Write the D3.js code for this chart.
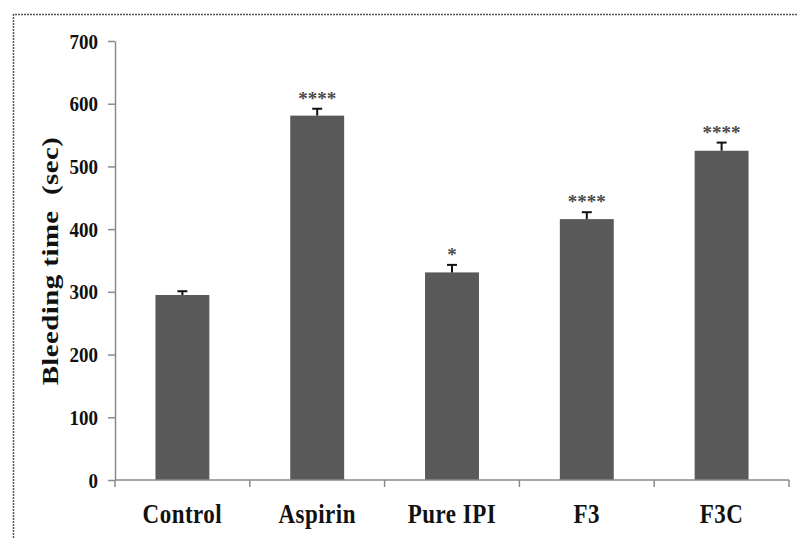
<!DOCTYPE html>
<html>
<head>
<meta charset="utf-8">
<script src="https://cdn.jsdelivr.net/npm/d3@7"></script>
<style>
  html, body { margin: 0; padding: 0; background: #fff; }
  svg { display: block; }
</style>
</head>
<body>
<svg id="chart" width="797" height="538"></svg>
<script>
// ---- data ----
const categories = ["Control", "Aspirin", "Pure IPI", "F3", "F3C"];
const bleedingTime = [295, 581, 331, 416, 525];
const errorSE = [6, 11, 12, 11, 13];
const significance = ["", "****", "*", "****", "****"];
const yTicks = [0, 100, 200, 300, 400, 500, 600, 700];
const yLabel = "Bleeding time  (sec)";

const svg = d3.select("#chart");
const W = 797, H = 538;
const x0 = 115, x1 = 789, yTop = 41, yBot = 480;

const serif = "'Liberation Serif', 'Times New Roman', serif";
const axisColor = "#8a8a8a";

// frame (dotted border of the original figure)
svg.append("path")
  .attr("d", `M13.5,${H} V14.5 H${W}`)
  .attr("fill", "none")
  .attr("stroke", "#555")
  .attr("stroke-width", 1.5)
  .attr("stroke-dasharray", "2,1");

const x = d3.scaleBand().domain(categories).range([x0, x1])
  .paddingInner(0.6).paddingOuter(0.3);
const y = d3.scaleLinear().domain([0, 700]).range([yBot, yTop]);

// y axis
const gy = svg.append("g").attr("transform", `translate(${x0},0)`)
  .call(d3.axisLeft(y).tickValues(yTicks).tickSize(7).tickPadding(10).tickSizeOuter(0));
gy.select(".domain").attr("stroke", axisColor).attr("stroke-width", 1.5);
gy.selectAll(".tick line").attr("stroke", axisColor).attr("stroke-width", 1.5);
gy.selectAll(".tick text")
  .attr("font-family", serif).attr("font-size", 19).attr("font-weight", "bold")
  .attr("fill", "#111")
  .attr("transform", "scale(1,1.15)");

// bars
svg.append("g").selectAll("rect").data(categories).join("rect")
  .attr("x", d => x(d))
  .attr("width", x.bandwidth())
  .attr("y", (d, i) => y(bleedingTime[i]))
  .attr("height", (d, i) => y(0) - y(bleedingTime[i]))
  .attr("fill", "#595959");

// x axis
const gx = svg.append("g").attr("transform", `translate(0,${yBot})`);
gx.append("line").attr("x1", x0).attr("x2", x1).attr("y1", 0).attr("y2", 0)
  .attr("stroke", axisColor).attr("stroke-width", 1.5);
const half = (x.step() - x.bandwidth()) / 2;
const bounds = categories.map(d => x(d) - half).concat([x(categories[categories.length - 1]) + x.bandwidth() + half]);
gx.selectAll("line.tk").data(bounds).join("line").attr("class", "tk")
  .attr("x1", d => d).attr("x2", d => d).attr("y1", 0).attr("y2", 7)
  .attr("stroke", axisColor).attr("stroke-width", 1.5);
svg.append("g").selectAll("g").data(categories).join("g")
  .attr("transform", d => `translate(${x(d) + x.bandwidth() / 2},523) scale(1,1.2)`)
  .append("text")
  .attr("text-anchor", "middle")
  .attr("font-family", serif).attr("font-size", 23).attr("font-weight", "bold")
  .attr("letter-spacing", "0.5px")
  .attr("fill", "#111")
  .text(d => d);

// error bars (upper half)
const eb = svg.append("g").attr("stroke", "#111").attr("stroke-width", 2);
categories.forEach((c, i) => {
  const cx = x(c) + x.bandwidth() / 2;
  const yt = y(bleedingTime[i] + errorSE[i]);
  eb.append("line").attr("x1", cx).attr("x2", cx).attr("y1", y(bleedingTime[i])).attr("y2", yt);
  eb.append("line").attr("x1", cx - 5).attr("x2", cx + 5).attr("y1", yt).attr("y2", yt);
});

// significance stars
svg.append("g").selectAll("text").data(categories).join("text")
  .attr("x", d => x(d) + x.bandwidth() / 2)
  .attr("y", (d, i) => y(bleedingTime[i] + errorSE[i]) - 4)
  .attr("text-anchor", "middle")
  .attr("font-family", serif).attr("font-size", 19).attr("font-weight", "bold")
  .attr("fill", "#4a4a4a")
  .text((d, i) => significance[i]);

// y label
svg.append("g")
  .attr("transform", "translate(58,261) rotate(-90) scale(1.2,1)")
  .append("text")
  .attr("text-anchor", "middle")
  .attr("font-family", serif).attr("font-size", 24).attr("font-weight", "bold")
  .attr("letter-spacing", "0.4px")
  .attr("fill", "#111")
  .style("white-space", "pre")
  .text(yLabel);
</script>
</body>
</html>
